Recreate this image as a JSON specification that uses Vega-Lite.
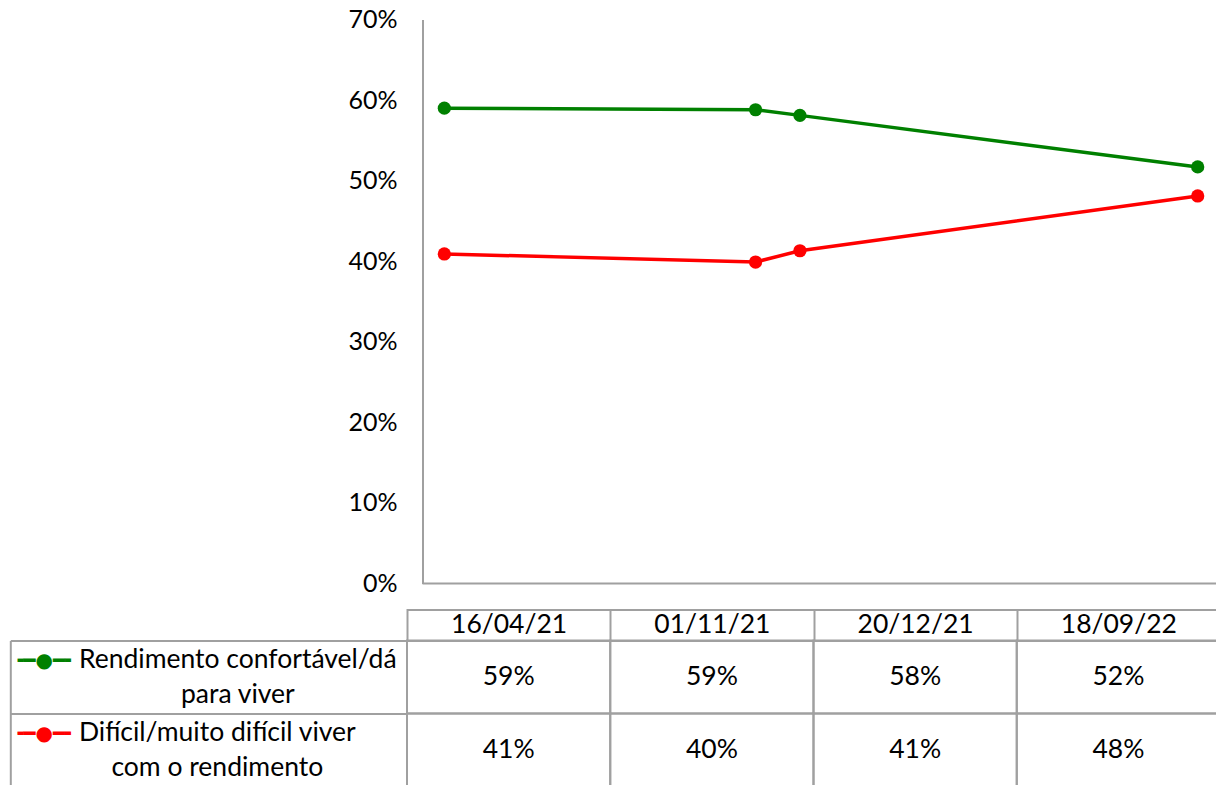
{
  "$schema": "https://vega.github.io/schema/vega-lite/v6.json",
  "padding": {"left": 9, "top": 7.5, "right": 0, "bottom": 0},
  "spacing": -2,
  "config": {
    "font": "Lato",
    "view": {"stroke": null},
    "axis": {"labelFont": "Lato", "labelColor": "#000000", "labelFontSize": 26.5, "grid": false, "title": null}
  },
  "datasets": {
    "d": [
      {"serie": "Rendimento confortável/dá para viver", "date": "2021-04-16", "value": 0.59},
      {"serie": "Rendimento confortável/dá para viver", "date": "2021-11-01", "value": 0.588},
      {"serie": "Rendimento confortável/dá para viver", "date": "2021-12-20", "value": 0.581},
      {"serie": "Rendimento confortável/dá para viver", "date": "2022-09-18", "value": 0.517},
      {"serie": "Difícil/muito difícil viver com o rendimento", "date": "2021-04-16", "value": 0.409},
      {"serie": "Difícil/muito difícil viver com o rendimento", "date": "2021-11-01", "value": 0.399},
      {"serie": "Difícil/muito difícil viver com o rendimento", "date": "2021-12-20", "value": 0.413},
      {"serie": "Difícil/muito difícil viver com o rendimento", "date": "2022-09-18", "value": 0.481}
    ]
  },
  "vconcat": [
    {
      "width": 813,
      "height": 564,
      "layer": [
        {
          "data": {"values": [{}]},
          "mark": {"type": "rule", "color": "#a0a0a0", "strokeWidth": 2},
          "encoding": {
            "x": {"datum": {"year": 2021, "month": 4, "date": 1, "utc": true}, "type": "temporal",
                  "scale": {"domain": [{"year": 2021, "month": 3, "date": 21, "hours": 8, "utc": true}, {"year": 2022, "month": 10, "date": 1, "hours": 8, "utc": true}], "nice": false}},
            "x2": {"datum": {"year": 2022, "month": 10, "date": 1, "utc": true}},
            "y": {"datum": 0, "type": "quantitative", "scale": {"domain": [0, 0.7], "nice": false}}
          }
        },
        {
          "data": {"name": "d"},
          "mark": {"type": "line", "strokeWidth": 3.5, "point": {"filled": true, "size": 175, "opacity": 1}},
          "encoding": {
            "x": {"field": "date", "type": "temporal", "timeUnit": "utcyearmonth", "bandPosition": 0.5,
                  "scale": {"domain": [{"year": 2021, "month": 3, "date": 21, "hours": 8, "utc": true}, {"year": 2022, "month": 10, "date": 1, "hours": 8, "utc": true}], "nice": false},
                  "axis": {"orient": "bottom", "offset": 26, "labels": false, "ticks": false, "tickSize": 0, "grid": false, "domain": true, "domainColor": "#a0a0a0", "domainWidth": 2, "title": null}},
            "y": {"field": "value", "type": "quantitative", "scale": {"domain": [0, 0.7], "nice": false},
                  "axis": {"orient": "left", "offset": -15.5, "values": [0, 0.1, 0.2, 0.3, 0.4, 0.5, 0.6, 0.7], "format": ".0%", "ticks": false, "tickSize": 0, "labelPadding": 25.5, "labelFontSize": 25, "domainColor": "#a0a0a0", "domainWidth": 2, "grid": false, "title": null}},
            "color": {"field": "serie", "type": "nominal",
                      "scale": {"domain": ["Rendimento confortável/dá para viver", "Difícil/muito difícil viver com o rendimento"], "range": ["#008000", "#ff0000"]},
                      "legend": null}
          }
        }
      ]
    },
    {
      "width": 813,
      "height": 146,
      "data": {"name": "d"},
      "layer": [
        {
          "mark": {"type": "rect", "fillOpacity": 0, "stroke": "#a0a0a0", "strokeWidth": 2},
          "encoding": {
            "x": {"field": "date", "type": "ordinal", "timeUnit": "utcyearmonthdate",
                  "scale": {"paddingInner": 0, "paddingOuter": 0},
                  "axis": {"orient": "top", "tickBand": "extent", "tickSize": 32, "tickColor": "#a0a0a0", "tickWidth": 2, "domain": true, "domainColor": "#a0a0a0", "domainWidth": 2, "labelAngle": 0, "labelBaseline": "alphabetic", "labelPadding": -24.3, "labelOverlap": false,
                           "labelExpr": "isValid(datum.value) ? utcFormat(datum.value, '%d/%m/%y') : ''", "title": null}},
            "y": {"field": "serie", "type": "nominal",
                  "scale": {"domain": ["Rendimento confortável/dá para viver", "Difícil/muito difícil viver com o rendimento"], "paddingInner": 0, "paddingOuter": 0},
                  "axis": {"orient": "left", "domain": false, "ticks": true, "tickBand": "extent", "tickSize": 396.7, "tickColor": "#a0a0a0", "tickWidth": 2,
                           "labelAlign": "center", "labelBaseline": "middle", "labelOffset": -17.5, "labelLineHeight": 35, "labelLimit": 0, "labelOverlap": false,
                           "labelPadding": {"condition": {"test": "datum.value === 'Rendimento confortável/dá para viver'", "value": -227}, "value": -206.5},
                           "labelExpr": "!isValid(datum.value) ? '' : datum.value === 'Rendimento confortável/dá para viver' ? ['Rendimento confortável/dá', 'para viver'] : ['Difícil/muito difícil viver', 'com o rendimento']",
                           "title": null}}
          }
        },
        {
          "mark": {"type": "text", "fontSize": 26.5, "font": "Lato", "color": "#000000"},
          "encoding": {
            "x": {"field": "date", "type": "ordinal", "timeUnit": "utcyearmonthdate"},
            "y": {"field": "serie", "type": "nominal",
                  "axis": {"orient": "left", "offset": 396.7, "domain": true, "domainColor": "#a0a0a0", "domainWidth": 2, "ticks": false, "tickSize": 0,
                           "labelAlign": "left", "labelBaseline": "middle", "labelPadding": -0.7, "labelOffset": -16.5, "labelOverlap": false, "labelLimit": 0,
                           "labelFont": "DejaVu Sans", "labelFontSize": 20,
                           "labelExpr": "'╺━●━╸'",
                           "labelColor": {"condition": {"test": "datum.value === 'Rendimento confortável/dá para viver'", "value": "#008000"}, "value": "#ff0000"},
                           "title": null}},
            "text": {"field": "value", "type": "quantitative", "format": ".0%"}
          }
        }
      ],
      "resolve": {"axis": {"y": "independent"}}
    }
  ]
}
